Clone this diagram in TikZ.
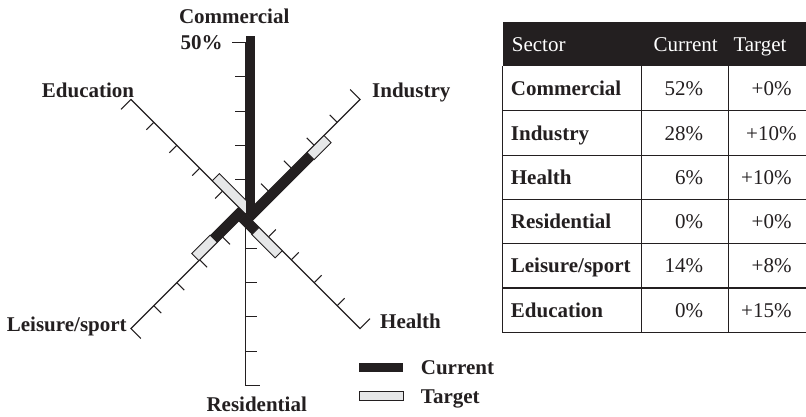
\documentclass[tikz,border=0pt]{standalone}
\usepackage{fontspec}
\setmainfont{Liberation Serif}
\definecolor{ink}{RGB}{35,31,32}
\definecolor{tgt}{RGB}{230,231,232}
\newcommand\radaxis[5]{% angle, unit, ticklen, endlen, name
  \begin{scope}[shift={(C)}, rotate=#1]
    \draw[axisline] (0,0) -- (5*#2,0) coordinate (#5end) -- (5*#2,#4);
    \foreach \k in {1,...,4} \draw[axisline] (\k*#2,0) -- (\k*#2,#3);
  \end{scope}}
\newcommand\radbar[4]{% angle, current end, target end, width
  \begin{scope}[shift={(C)}, rotate=#1]
    \fill[ink] (0,0) rectangle (#2,-#4);
    \ifdim #3pt>#2pt \draw[ink, line width=0.9, fill=tgt] (#2,0) rectangle (#3,-#4);\fi
  \end{scope}}
\begin{document}
\begin{tikzpicture}[x=1pt,y=1pt,
  axisline/.style={ink, line width=1.1, line join=miter},
  lbl/.style={ink, font=\fontsize{21}{25}\selectfont\bfseries, inner sep=0pt},
  cell/.style={ink, font=\fontsize{21}{25}\selectfont, inner sep=0pt},
  hcell/.style={white, font=\fontsize{21}{25}\selectfont, inner sep=0pt},
  rule/.style={ink, line width=1.1}]
\useasboundingbox (0,0) rectangle (806,416);
\coordinate (C) at (245.5,202);

% axes
\radaxis{90}{34.3}{11}{14}{com}
\radaxis{-90}{34.3}{11}{14.5}{res}
\radaxis{45}{32.4}{10.5}{14}{ind}
\radaxis{-45}{32.4}{10.5}{14}{hea}
\radaxis{-135}{32.4}{10.5}{14}{lei}
\radaxis{135}{32.4}{10.5}{14}{edu}

% bars
\radbar{135}{0}{47}{10}
\radbar{-45}{19}{52}{10}
\radbar{-135}{40}{66}{10}
\radbar{45}{87}{111}{10}
\radbar{90}{178}{178}{9.8}

% axis labels
\node[lbl, anchor=base] (lcom) at (234.2,392.7) {Commercial};
\node[lbl, anchor=base east] (l50) at (222.7,366) {50\%};
\node[lbl, anchor=base west] (ledu) at (41.7,318.7) {Education};
\node[lbl, anchor=base west] (lind) at (372,319) {Industry};
\node[lbl, anchor=base west] (lhea) at (380,87.7) {Health};
\node[lbl, anchor=base west] (llei) at (6.7,84.5) {Leisure/sport};
\node[lbl, anchor=base] (lres) at (256.7,4.2) {Residential};

% legend
\fill[ink] (359.3,43.7) rectangle (403.3,53.3);
\draw[ink, line width=0.9, fill=tgt] (359.3,15.2) rectangle (403.3,24.8);
\node[lbl, anchor=base west] (lgcur) at (420.7,41.2) {Current};
\node[lbl, anchor=base west] (lgtgt) at (420.7,12.5) {Target};

% table
\fill[ink] (502.7,349.5) rectangle (806,393.7);
\foreach \y in {305.2,260.9,216.6,172.3,128,83.7} \draw[rule] (502.15,\y) -- (806,\y);
\foreach \x in {502.7,641.7,728.3} \draw[rule] (\x,349.5) -- (\x,83.2);
\node[hcell, anchor=base west] (hsec) at (511.7,364.5) {Sector};
\node[hcell, anchor=base west] (hcur) at (653.3,364.5) {Current};
\node[hcell, anchor=base west] (htgt) at (733.3,364.5) {Target};

\node[lbl, anchor=base west] (r1) at (510.7,320.3) {Commercial};
\node[lbl, anchor=base west] (r2) at (510.7,276.0) {Industry};
\node[lbl, anchor=base west] (r3) at (510.7,231.7) {Health};
\node[lbl, anchor=base west] (r4) at (510.7,187.4) {Residential};
\node[lbl, anchor=base west] (r5) at (510.7,143.1) {Leisure/sport};
\node[lbl, anchor=base west] (r6) at (510.7,98.8) {Education};

\node[cell, anchor=base east] (c1) at (703.3,320.3) {52\%};
\node[cell, anchor=base east] (c2) at (703.3,276.0) {28\%};
\node[cell, anchor=base east] (c3) at (703.3,231.7) {6\%};
\node[cell, anchor=base east] (c4) at (703.3,187.4) {0\%};
\node[cell, anchor=base east] (c5) at (703.3,143.1) {14\%};
\node[cell, anchor=base east] (c6) at (703.3,98.8) {0\%};

\node[cell, anchor=base east] (t1) at (791.7,320.3) {+0\%};
\node[cell, anchor=base east] (t2) at (796.7,276.0) {+10\%};
\node[cell, anchor=base east] (t3) at (791.7,231.7) {+10\%};
\node[cell, anchor=base east] (t4) at (791.7,187.4) {+0\%};
\node[cell, anchor=base east] (t5) at (791.7,143.1) {+8\%};
\node[cell, anchor=base east] (t6) at (791.7,98.8) {+15\%};
\end{tikzpicture}
\end{document}
